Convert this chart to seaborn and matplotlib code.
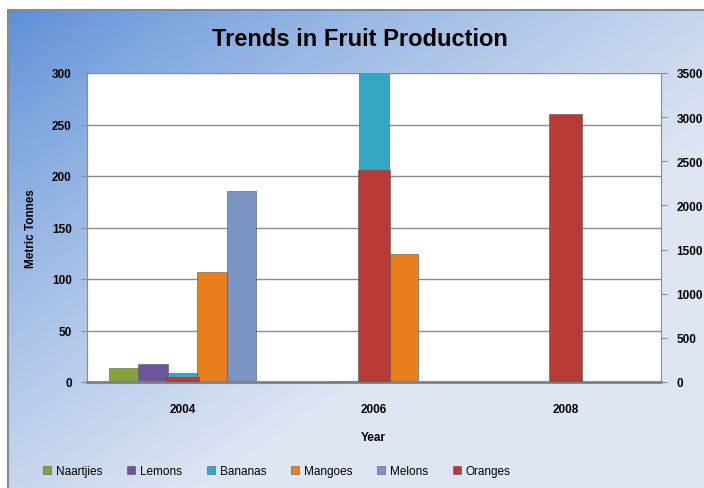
import numpy as np
import pandas as pd
import matplotlib.pyplot as plt
import seaborn as sns
from matplotlib.patches import Patch

# data
years = ['2004', '2006', '2008']
fruits = ['Naartjies', 'Lemons', 'Bananas', 'Mangoes', 'Melons']
naartjies = [14, 0, 0]
lemons = [17, 1, 0]
bananas = [9, 330, 0]
mangoes = [107, 124, 0]
melons = [185, 0, 0]
oranges = [55, 2400, 3030]   # secondary axis

colors = {'Naartjies': '#86a33a', 'Lemons': '#6c559a', 'Bananas': '#33a6c4',
          'Mangoes': '#e87f1f', 'Melons': '#7d95c2', 'Oranges': '#b73a36'}

primary = pd.DataFrame({
    'year': years * 5,
    'fruit': [f for f in fruits for _ in years],
    'value': naartjies + lemons + bananas + mangoes + melons,
})

sns.set_style('white')
plt.rcParams['font.family'] = ['Liberation Sans', 'DejaVu Sans']
for k in ['text.color', 'axes.labelcolor', 'xtick.labelcolor', 'ytick.labelcolor']:
    plt.rcParams[k] = 'black'

W, H = 704, 489
fig = plt.figure(figsize=(W / 100, H / 100), dpi=100, facecolor='white')

# gradient chart background
bg = fig.add_axes([8 / W, 0, 1 - 8 / W, 1 - 11 / H], zorder=-5)
gx, gy = np.meshgrid(np.linspace(0, 1, 300), np.linspace(0, 1, 200))
t = np.clip((gx + gy) / 1.3, 0, 1) ** 0.8
t = t[..., None]
c0 = np.array([0x5a, 0x8e, 0xd7]) / 255
c1 = np.array([0xdf, 0xe6, 0xf3]) / 255
bg.imshow(c0 * (1 - t) + c1 * t, aspect='auto', extent=[0, 1, 1, 0])
bg.set_xticks([])
bg.set_yticks([])
for s in ['right', 'bottom']:
    bg.spines[s].set_visible(False)
for s in ['top', 'left']:
    bg.spines[s].set_color('#8a8a8a')
    bg.spines[s].set_linewidth(1.5)

ax = fig.add_axes([87 / W, 1 - 383 / H, (661 - 87) / W, (383 - 74) / H])
ax.set_facecolor('white')
ax.set_axisbelow(True)

sns.barplot(data=primary, x='year', y='value', hue='fruit', hue_order=fruits,
            palette=colors, width=0.77, saturation=1, legend=False, ax=ax,
            edgecolor='#555555', linewidth=0.4)
ax.set_ylim(0, 300)
ax.set_xlim(-0.5, 2.5)
ax.set_yticks(range(0, 301, 50))
ax.yaxis.grid(True, color='#8c8c8c', linewidth=1)
ax.tick_params(axis='y', length=4, color='#8c8c8c', pad=7, labelsize=8.5)
ax.tick_params(axis='x', length=0, pad=15, labelsize=8.5)
for lab in ax.get_xticklabels() + ax.get_yticklabels():
    lab.set_fontweight('bold')
ax.set_xlabel('')
ax.set_ylabel('Metric Tonnes', fontsize=8.5, fontweight='bold', labelpad=11)
for s in ['top', 'right']:
    ax.spines[s].set_visible(False)
ax.spines['left'].set_color('#8c8c8c')
ax.spines['bottom'].set_color('#7f7f7f')
ax.spines['bottom'].set_linewidth(2)

ax2 = ax.twinx()
sns.barplot(x=years, y=oranges, color=colors['Oranges'], width=0.17,
            saturation=1, ax=ax2, edgecolor='#555555', linewidth=0.4)
ax2.set_ylim(0, 3500)
ax2.set_yticks(range(0, 3501, 500))
ax2.tick_params(axis='y', length=4, color='#8c8c8c', pad=7, labelsize=8.5)
for lab in ax2.get_yticklabels():
    lab.set_fontweight('bold')
ax2.set_ylabel('')
for s in ['top', 'left', 'bottom']:
    ax2.spines[s].set_visible(False)
ax2.spines['right'].set_color('#8c8c8c')

fig.text(360 / W, 1 - 40 / H, 'Trends in Fruit Production', ha='center', va='center',
         fontsize=17, fontweight='bold')
fig.text(373 / W, 1 - 438 / H, 'Year', ha='center', va='center',
         fontsize=8.5, fontweight='bold')

handles = [Patch(facecolor=colors[f], edgecolor='#555555', linewidth=0.4)
           for f in fruits + ['Oranges']]
fig.legend(handles, fruits + ['Oranges'], loc='center left',
           bbox_to_anchor=(32 / W, 1 - 472 / H), ncol=6, frameon=False,
           fontsize=8.5, handlelength=0.7, handleheight=0.7, handletextpad=0.4,
           columnspacing=2.1)

fig.savefig('out.png', dpi=100)
